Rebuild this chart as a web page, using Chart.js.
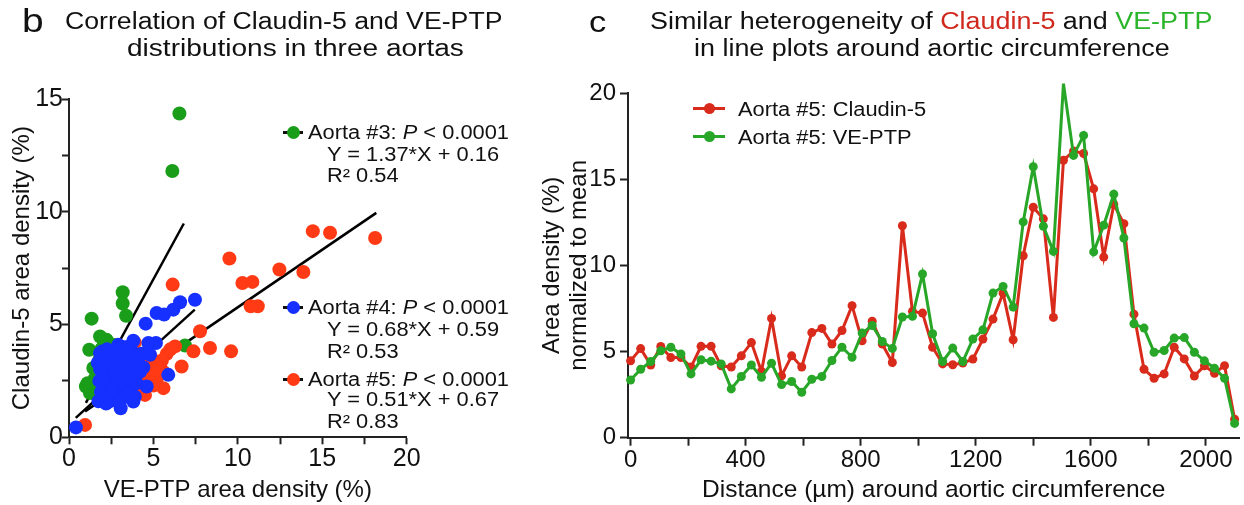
<!DOCTYPE html>
<html>
<head>
<meta charset="utf-8">
<script src="https://cdn.jsdelivr.net/npm/chart.js@4.4.1/dist/chart.umd.min.js"></script>
<style>
  body { margin: 0; background: #fff; font-family: 'Liberation Sans', Arial, sans-serif; color: #111; }
  #page { position: relative; width: 1244px; height: 505px; overflow: hidden; }
  .panel { position: absolute; top: 0; height: 505px; }
  .txt { position: absolute; white-space: nowrap; line-height: 1; transform-origin: 0 0; }
  .leg { font-size: 19.5px; transform: scaleX(1.12); }
  .ttl { font-size: 23px; }
  .seg { position: absolute; background: #111; }
  .dot { position: absolute; border-radius: 50%; }
</style>
</head>
<body>
<div id="page">
  <div class="panel" style="left:0;width:520px"><canvas id="corr"></canvas></div>
  <div class="panel" style="left:520px;width:724px"><canvas id="lines"></canvas></div>

  <!-- panel b titles -->
  <div class="txt" style="left:22px;top:4px;font-size:33px;transform:scaleX(1.18)">b</div>
  <div class="txt ttl" style="left:65px;top:9.5px;transform:scaleX(1.16)">Correlation of Claudin-5 and VE-PTP</div>
  <div class="txt ttl" style="left:127px;top:36.5px;transform:scaleX(1.22)">distributions in three aortas</div>

  <!-- panel b annotations -->
  <div class="seg" style="left:283px;top:131px;width:20px;height:2.5px"></div>
  <div class="dot" style="left:287px;top:126px;width:13px;height:13px;background:#1a9e1a"></div>
  <div class="txt leg" style="left:308px;top:122.5px">Aorta #3: <i>P</i> &lt; 0.0001</div>
  <div class="txt leg" style="left:327px;top:145px">Y = 1.37*X + 0.16</div>
  <div class="txt leg" style="left:327px;top:166px">R² 0.54</div>

  <div class="seg" style="left:283px;top:306px;width:20px;height:2.5px"></div>
  <div class="dot" style="left:287px;top:301px;width:13px;height:13px;background:#1530ff"></div>
  <div class="txt leg" style="left:308px;top:297.5px">Aorta #4: <i>P</i> &lt; 0.0001</div>
  <div class="txt leg" style="left:327px;top:319.5px">Y = 0.68*X + 0.59</div>
  <div class="txt leg" style="left:327px;top:341.5px">R² 0.53</div>

  <div class="seg" style="left:283px;top:378px;width:20px;height:2.5px"></div>
  <div class="dot" style="left:287px;top:373px;width:13px;height:13px;background:#ff3a14"></div>
  <div class="txt leg" style="left:308px;top:369.5px">Aorta #5: <i>P</i> &lt; 0.0001</div>
  <div class="txt leg" style="left:327px;top:390px">Y = 0.51*X + 0.67</div>
  <div class="txt leg" style="left:327px;top:411.5px">R² 0.83</div>

  <!-- panel c titles -->
  <div class="txt" style="left:589px;top:7px;font-size:30px;transform:scaleX(1.15)">c</div>
  <div class="txt ttl" style="left:650px;top:9.5px;transform:scaleX(1.17)">Similar heterogeneity of <span style="color:#d0281c">Claudin-5</span> and <span style="color:#2ab52a">VE-PTP</span></div>
  <div class="txt ttl" style="left:694px;top:37px;transform:scaleX(1.17)">in line plots around aortic circumference</div>

  <!-- panel c legend -->
  <div class="seg" style="left:693px;top:106.8px;width:32px;height:3px;background:#d92b1c"></div>
  <div class="dot" style="left:704px;top:103px;width:11px;height:11px;background:#d92b1c"></div>
  <div class="txt leg" style="left:738px;top:100px">Aorta #5: Claudin-5</div>
  <div class="seg" style="left:693px;top:134.5px;width:32px;height:3px;background:#27a627"></div>
  <div class="dot" style="left:704px;top:130.5px;width:11px;height:11px;background:#27a627"></div>
  <div class="txt leg" style="left:738px;top:127.5px">Aorta #5: VE-PTP</div>
</div>

<script>
/*
PANEL B DATA - correlation of Claudin-5 vs VE-PTP area density
*/
const aorta3X = [6.54, 6.12, 3.18, 3.18, 3.38, 1.34, 1.84, 2.23, 2.03, 1.20, 6.87, 1.80, 1.44, 1.64, 1.00, 1.24, 1.10, 1.52, 2.60, 1.62, 2.00, 2.40, 2.20, 2.80, 1.90, 2.50, 3.00, 1.72];
const aorta3Y = [14.36, 11.81, 6.43, 5.93, 5.39, 5.26, 4.47, 4.32, 4.03, 3.88, 4.07, 3.44, 3.07, 2.84, 2.25, 1.96, 2.40, 2.60, 4.10, 1.90, 2.20, 2.60, 3.00, 3.20, 3.90, 3.60, 3.90, 2.20];

const aorta4X = [0.41, 3.06, 3.81, 5.88, 4.54, 5.19, 5.63, 6.18, 6.58, 7.46, 2.92, 3.81, 4.70, 5.15, 4.80, 1.84, 4.60,
  1.75, 1.90, 1.80, 1.85, 1.90, 1.95, 2.10, 2.20, 2.15, 2.30, 2.25, 2.40, 2.50, 2.45, 2.60, 2.55, 2.70, 2.80, 2.75, 2.90, 2.85,
  3.00, 3.10, 3.05, 3.20, 3.30, 3.40, 3.35, 3.50, 3.60, 3.70, 3.80, 3.90, 4.00, 4.10, 3.75, 4.30, 4.40, 2.00, 2.35, 3.20, 1.70,
  2.60, 3.00, 2.20, 4.20, 3.50];
const aorta4Y = [0.44, 1.29, 1.59, 2.77, 5.04, 5.51, 5.44, 5.66, 5.99, 6.10, 4.10, 4.28, 4.18, 4.18, 3.66, 3.73, 2.25,
  1.60, 2.00, 2.50, 3.00, 3.50, 3.80, 1.70, 2.30, 2.80, 3.30, 3.90, 1.60, 2.00, 2.60, 3.10, 3.60, 1.80, 2.40, 2.90, 3.40, 3.90,
  2.10, 2.60, 3.10, 3.60, 1.80, 2.30, 2.90, 3.30, 2.00, 2.60, 3.00, 1.80, 2.40, 3.50, 3.80, 3.70, 3.10, 2.60, 1.90, 4.00, 3.30,
  2.20, 1.60, 1.50, 2.90, 4.00];

const aorta5X = [0.95, 9.50, 6.14, 10.27, 10.86, 10.76, 11.18, 12.46, 13.88, 14.44, 15.46, 18.13, 7.76, 8.35, 7.37, 9.60, 6.67, 5.79,
  6.28, 5.59, 4.50, 6.00, 5.50, 5.20, 3.50, 3.80, 4.00, 4.20, 4.40, 4.60, 4.80, 5.00, 5.20, 5.40, 4.70, 4.30, 3.90, 5.00, 3.40,
  3.70, 4.10, 5.60, 3.60, 4.90, 3.20, 2.70, 3.00, 3.90];
const aorta5Y = [0.55, 7.93, 6.77, 6.84, 6.89, 5.81, 5.81, 7.44, 7.33, 9.14, 9.07, 8.84, 4.70, 3.96, 3.81, 3.81, 3.14, 3.70,
  4.03, 2.18, 1.88, 3.90, 3.40, 3.00, 2.70, 2.80, 3.10, 2.70, 3.00, 2.80, 3.20, 2.90, 2.60, 3.10, 2.40, 2.20, 2.40, 2.30, 3.60,
  3.90, 3.40, 2.90, 2.30, 3.50, 2.90, 2.50, 3.30, 4.20];

// regression line end points
const fit3X = [1.0, 6.8];
const fit3Y = [1.53, 9.48];
const fit4X = [0.4, 7.45];
const fit4Y = [0.86, 5.66];
const fit5X = [0.95, 18.2];
const fit5Y = [1.15, 9.95];

const corrXTicks = [0, 2.5, 5, 7.5, 10, 12.5, 15, 17.5, 20];
const corrYTicks = [0, 2.5, 5, 7.5, 10, 12.5, 15];

/*
PANEL C DATA - line plots around aortic circumference
*/
const distance = [0, 35, 70, 105, 140, 175, 210, 245, 280, 315, 350, 385, 420, 455, 490, 525, 560, 595, 630, 665, 700,
  735, 770, 805, 840, 875, 910, 945, 980, 1015, 1050, 1085, 1120, 1155, 1190, 1225, 1260, 1295, 1330, 1365, 1400,
  1435, 1470, 1505, 1540, 1575, 1610, 1645, 1680, 1715, 1750, 1785, 1820, 1855, 1890, 1925, 1960, 1995, 2030, 2065, 2100];
const claudin5 = [4.46, 5.17, 4.22, 5.29, 4.65, 4.65, 4.10, 5.30, 5.30, 4.17, 4.10, 4.75, 5.52, 3.84, 6.92, 3.59, 4.75, 4.10,
  6.10, 6.34, 5.43, 6.22, 7.66, 5.62, 6.76, 5.43, 4.36, 12.30, 7.33, 7.23, 5.25, 4.28, 4.23, 4.33, 4.56, 5.72, 6.88, 8.39,
  5.68, 10.56, 13.37, 12.70, 6.98, 16.10, 16.63, 16.49, 14.44, 10.48, 13.53, 12.42, 7.17, 3.97, 3.45, 3.70, 5.25, 4.57,
  3.58, 4.17, 3.74, 4.18, 1.07];
const vePtp = [3.35, 3.97, 4.42, 5.04, 5.25, 4.86, 3.70, 4.52, 4.44, 4.28, 2.83, 3.55, 4.22, 3.51, 4.32, 3.08, 3.26, 2.64,
  3.39, 3.55, 4.48, 5.25, 4.67, 6.07, 6.51, 5.58, 5.18, 7.00, 7.04, 9.50, 6.03, 4.42, 5.20, 4.42, 5.72, 6.26, 8.39, 8.78,
  7.58, 12.52, 15.72, 12.27, 10.81, 20.54, 16.38, 17.54, 10.78, 12.33, 14.13, 11.59, 6.61, 6.36, 4.96, 5.06, 5.78, 5.81,
  4.96, 4.46, 4.03, 3.45, 0.83];

const distanceTicks = [0, 200, 400, 600, 800, 1000, 1200, 1400, 1600, 1800, 2000];
const densityTicks = [0, 5, 10, 15, 20];

/*
STYLE
*/
const AXIS = '#222';
const INK = '#111';
const DOT_GREEN = '#1a9e1a';
const DOT_BLUE = '#1530ff';
const DOT_RED = '#ff3a14';
const LINE_RED = '#d92b1c';
const LINE_GREEN = '#27a627';

Chart.defaults.font.family = "'Liberation Sans', Arial, sans-serif";
Chart.defaults.color = INK;

function pts(xs, ys) {
  return xs.map((x, i) => ({x: x, y: ys[i]}));
}

function dots(xs, ys, color) {
  return {
    data: pts(xs, ys),
    backgroundColor: color,
    borderColor: color,
    pointRadius: 7,
    pointHoverRadius: 7,
    pointBorderWidth: 0,
    clip: false
  };
}

function fitLine(xs, ys) {
  return {
    data: pts(xs, ys),
    showLine: true,
    borderColor: '#000',
    borderWidth: 2.5,
    pointRadius: 0,
    pointHoverRadius: 0,
    fill: false
  };
}

function trace(ys, color) {
  return {
    data: pts(distance, ys),
    borderColor: color,
    backgroundColor: color,
    borderWidth: 3,
    pointRadius: 4.5,
    pointHoverRadius: 4.5,
    pointBorderWidth: 0,
    tension: 0,
    clip: false
  };
}

function axisStyle(tickLen) {
  return {
    grid: {drawOnChartArea: false, drawTicks: true, tickLength: tickLen, tickWidth: 2, tickColor: AXIS},
    border: {display: true, color: AXIS, width: 2}
  };
}

// panel b chart (first dataset is drawn on top, so dots go before the fit lines)
let corrChart = new Chart(document.getElementById('corr'), {
  type: 'scatter',
  data: {
    datasets: [
      dots(aorta4X, aorta4Y, DOT_BLUE),
      dots(aorta5X, aorta5Y, DOT_RED),
      dots(aorta3X, aorta3Y, DOT_GREEN),
      fitLine(fit3X, fit3Y),
      fitLine(fit4X, fit4Y),
      fitLine(fit5X, fit5Y)
    ]
  },
  options: {
    animation: false,
    responsive: true,
    maintainAspectRatio: false,
    layout: {padding: {top: 99, right: 113.3, bottom: 0, left: 0}},
    plugins: {legend: {display: false}, tooltip: {enabled: false}},
    scales: {
      x: Object.assign(axisStyle(7), {
        type: 'linear', min: 0, max: 20,
        afterBuildTicks: s => { s.ticks = corrXTicks.map(v => ({value: v})); },
        afterFit: s => { s.height = 67.7; },
        ticks: {autoSkip: false, maxRotation: 0, padding: 0, font: {size: 25}, color: INK,
          callback: v => (v % 5 === 0 ? v : '')},
        title: {display: true, text: 'VE-PTP area density (%)', font: {size: 24}, color: INK,
          padding: {top: 0, bottom: 0}}
      }),
      y: Object.assign(axisStyle(7), {
        min: 0, max: 15,
        afterBuildTicks: s => { s.ticks = corrYTicks.map(v => ({value: v})); },
        afterFit: s => { s.width = 69; },
        ticks: {autoSkip: false, padding: -1, font: {size: 25}, color: INK,
          callback: v => (v % 5 === 0 ? v : '')},
        title: {display: true, text: 'Claudin-5 area density (%)', font: {size: 24}, color: INK,
          padding: {top: 8, bottom: 0}}
      })
    }
  }
});

// panel c chart
let lineChart = new Chart(document.getElementById('lines'), {
  type: 'line',
  data: {
    datasets: [
      trace(vePtp, LINE_GREEN),
      trace(claudin5, LINE_RED)
    ]
  },
  options: {
    animation: false,
    responsive: true,
    maintainAspectRatio: false,
    layout: {padding: {top: 93, right: 0, bottom: 0, left: 0}},
    plugins: {legend: {display: false}, tooltip: {enabled: false}},
    scales: {
      x: Object.assign(axisStyle(8), {
        type: 'linear', min: -9, max: 2117,
        afterBuildTicks: s => { s.ticks = distanceTicks.map(v => ({value: v})); },
        afterFit: s => { s.height = 67.3; },
        ticks: {autoSkip: false, maxRotation: 0, padding: 0, font: {size: 24}, color: INK,
          callback: v => (v % 400 === 0 ? v : '')},
        title: {display: true, text: 'Distance (µm) around aortic circumference', font: {size: 24.5}, color: INK,
          padding: {top: 0, bottom: 0}}
      }),
      y: Object.assign(axisStyle(8), {
        min: 0, max: 20,
        afterBuildTicks: s => { s.ticks = densityTicks.map(v => ({value: v})); },
        afterFit: s => { s.width = 108; },
        ticks: {autoSkip: false, padding: 4, font: {size: 24}, color: INK},
        title: {display: true, text: ['Area density (%)', 'normalized to mean'],
          font: {size: 24, lineHeight: 1.125}, color: INK, padding: {top: 19, bottom: 0}}
      })
    }
  }
});
</script>
</body>
</html>
